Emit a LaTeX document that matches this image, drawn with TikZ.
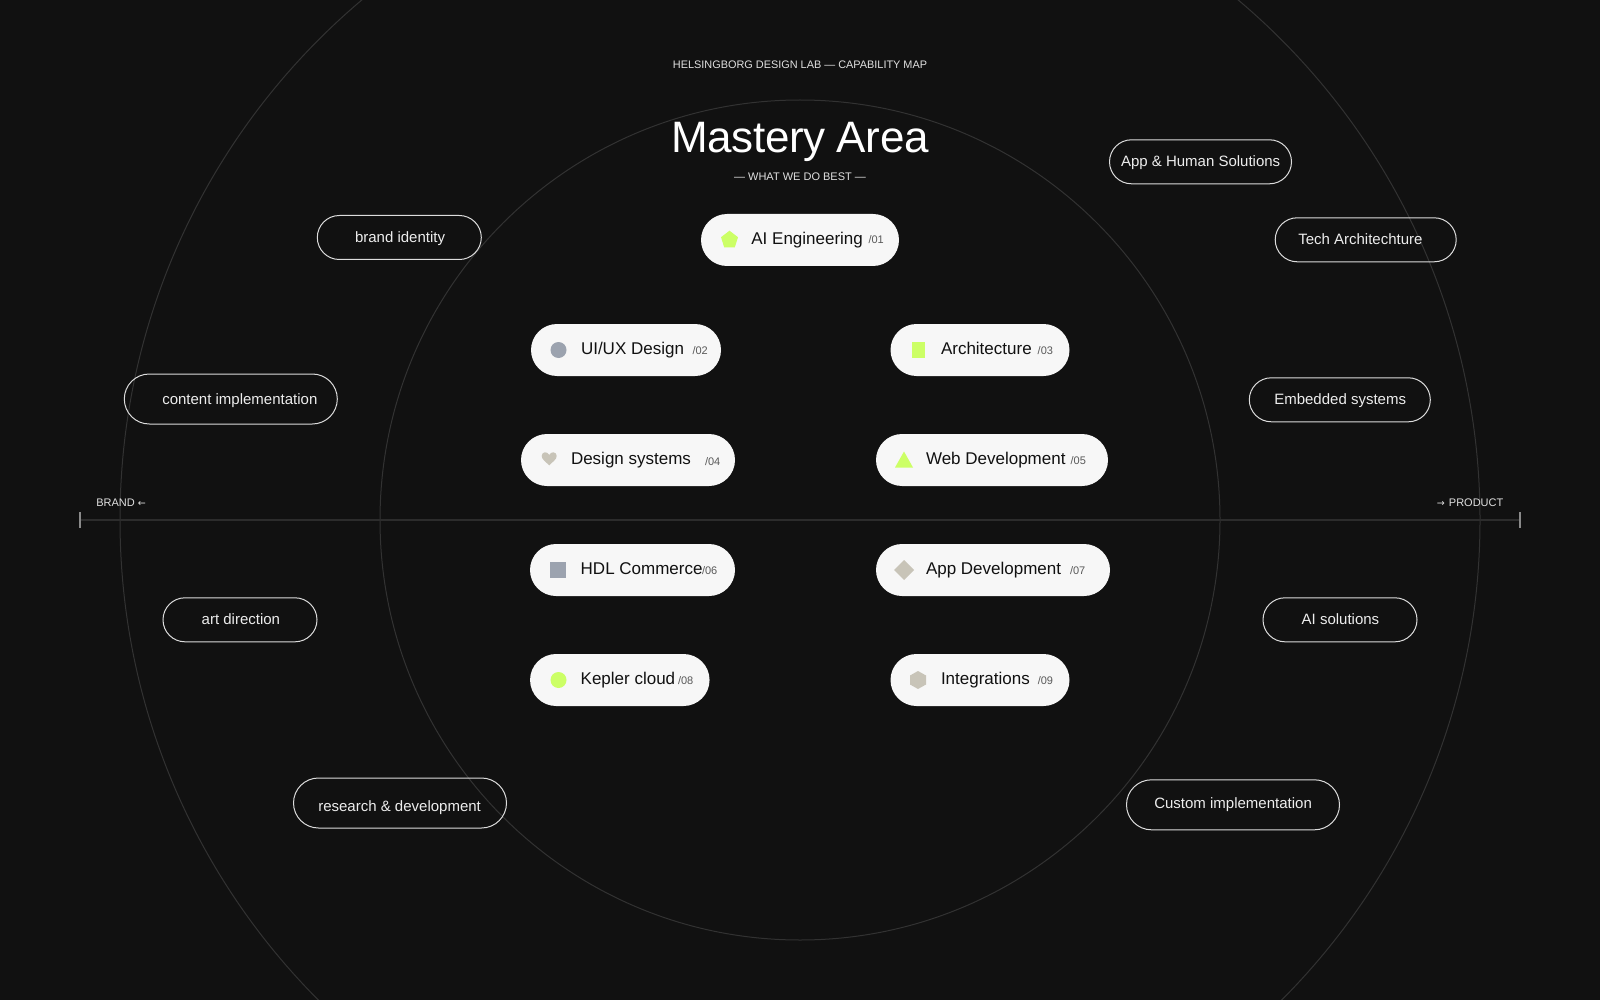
\documentclass[tikz,border=0pt]{standalone}
\usepackage{fontspec}
\setmainfont{Liberation Sans}
\newfontfamily\titlefont[LetterSpace=-1]{Liberation Sans}
\newfontfamily\arrowfont{DejaVu Sans}
\newcommand{\arrowglyph}[1]{{\arrowfont\fontsize{9.5}{13}\selectfont #1}}
\definecolor{bgc}{HTML}{111111}
\definecolor{ringc}{HTML}{323232}
\definecolor{axisc}{HTML}{2C2C2C}
\definecolor{tickc}{HTML}{8A8A8A}
\definecolor{pillc}{HTML}{F7F7F7}
\definecolor{edgec}{HTML}{DCDCDC}
\definecolor{limec}{HTML}{CCFF66}
\definecolor{slatec}{HTML}{9CA3AF}
\definecolor{stonec}{HTML}{C8C4B8}
\tikzset{
  ring/.style={draw=ringc,line width=1pt},
  axisline/.style={draw=axisc,line width=2pt},
  tickmark/.style={draw=tickc,line width=2pt},
  solidpill/.style={rectangle,rounded corners=26pt,fill=pillc,minimum height=52pt,inner sep=0pt,outer sep=0pt},
  linepill/.style={rectangle,draw=edgec,line width=1pt,rounded corners=22pt,fill=none,minimum height=44pt,inner sep=0pt,outer sep=0pt},
  tallpill/.style={linepill,rounded corners=25pt,minimum height=50pt},
  pilltext/.style={anchor=base west,inner sep=0pt,outer sep=0pt,text=bgc,font=\fontsize{17}{20}\selectfont},
  numtext/.style={anchor=base west,inner sep=0pt,outer sep=0pt,text=black!65,font=\fontsize{11}{13}\selectfont},
  linetext/.style={anchor=base west,inner sep=0pt,outer sep=0pt,text=white!93!black,font=\fontsize{15}{18}\selectfont},
  smalltext/.style={inner sep=0pt,outer sep=0pt,text=white!88!black,font=\fontsize{11}{13}\selectfont},
}
\begin{document}
\begin{tikzpicture}[x=1pt,y=-1pt]
\useasboundingbox (0,0) rectangle (1600,1000);
\clip (0,0) rectangle (1600,1000);
\fill[bgc] (0,0) rectangle (1600,1000);
% rings and axis
\coordinate (ctr) at (800,520);
\draw[ring] (ctr) circle[radius=680pt];
\draw[ring] (ctr) circle[radius=420pt];
\coordinate (axL) at (80,520);
\coordinate (axR) at (1520,520);
\draw[axisline] (axL) -- (axR);
\draw[tickmark] (80,512) -- (80,528);
\draw[tickmark] (1520,512) -- (1520,528);
\node[smalltext,anchor=base west] (brand) at (96.3,506) {BRAND \arrowglyph{←}};
\node[smalltext,anchor=base east] (prod) at (1503.3,506) {\arrowglyph{→}\kern1pt{} PRODUCT};
% headings
\node[smalltext,anchor=base] (head) at (800,69) {\fontsize{10.9}{13}\selectfont HELSINGBORG DESIGN LAB — CAPABILITY MAP};
\node[anchor=base,inner sep=0pt,text=white,font=\titlefont\fontsize{44}{50}\selectfont] (title) at (800,152.7) {Mastery Area};
\node[smalltext,anchor=base] (sub) at (800,181) {— WHAT WE DO BEST —};
% solid pills
\node[solidpill,minimum width=198pt] (p1) at (800,240) {};
\node[solidpill,minimum width=190pt] (p2) at (626,350) {};
\node[solidpill,minimum width=179pt] (p3) at (980,350) {};
\node[solidpill,minimum width=214pt] (p4) at (628,460) {};
\node[solidpill,minimum width=232pt] (p5) at (992,460) {};
\node[solidpill,minimum width=205pt] (p6) at (632.5,570) {};
\node[solidpill,minimum width=234pt] (p7) at (993,570) {};
\node[solidpill,minimum width=179.5pt] (p8) at (619.8,680) {};
\node[solidpill,minimum width=179pt] (p9) at (980,680) {};
% icons
\fill[limec] (729.5,230.7) -- (738,237.2) -- (734.8,247.3) -- (724.2,247.3) -- (721,237.2) -- cycle;
\fill[slatec] (558.5,350) circle[radius=8pt];
\fill[limec] (912,342) rectangle (925,358);
\fill[stonec] (549.2,465.3) .. controls (546,462) and (541.7,459.5) .. (541.7,456) .. controls (541.7,451.5) and (547.5,451) .. (549.2,455) .. controls (550.9,451) and (556.7,451.5) .. (556.7,456) .. controls (556.7,459.5) and (552.4,462) .. (549.2,465.3) -- cycle;
\fill[limec] (904,451.5) -- (913,467.5) -- (895,467.5) -- cycle;
\fill[slatec] (550,562) rectangle (566.4,578);
\fill[stonec] (904,560) -- (914,570) -- (904,580) -- (894,570) -- cycle;
\fill[limec] (558.5,680) circle[radius=8pt];
\fill[stonec] (918,671) -- (926,675.5) -- (926,684.5) -- (918,689) -- (910,684.5) -- (910,675.5) -- cycle;
% solid pill texts
\node[pilltext] (t1) at (751.4,245) {AI Engineering};
\node[numtext] (n1) at (868.5,244) {/01};
\node[pilltext] (t2) at (581,354) {UI/UX Design};
\node[numtext] (n2) at (692.5,354) {/02};
\node[pilltext] (t3) at (941,354) {Architecture};
\node[numtext] (n3) at (1037.7,354) {/03};
\node[pilltext] (t4) at (571,464) {Design systems};
\node[numtext] (n4) at (705,465) {/04};
\node[pilltext] (t5) at (926,464) {Web Development};
\node[numtext] (n5) at (1070.6,464) {/05};
\node[pilltext] (t6) at (580.7,574) {HDL Commerce};
\node[numtext] (n6) at (702,574) {/06};
\node[pilltext] (t7) at (926,574) {App Development};
\node[numtext] (n7) at (1070,574) {/07};
\node[pilltext] (t8) at (580.7,684) {Kepler cloud};
\node[numtext] (n8) at (678,684) {/08};
\node[pilltext] (t9) at (941,684) {Integrations};
\node[numtext] (n9) at (1037.8,684) {/09};
% outlined pills
\node[linepill,minimum width=164pt] (l1) at (399.3,237.5) {};
\node[linepill,minimum width=182pt] (l2) at (1200.5,161.8) {};
\node[linepill,minimum width=181pt] (l3) at (1365.7,239.8) {};
\node[tallpill,minimum width=213pt] (l4) at (230.8,399) {};
\node[linepill,minimum width=181pt] (l5) at (1339.8,399.8) {};
\node[linepill,minimum width=154pt] (l6) at (240,619.8) {};
\node[linepill,minimum width=154pt] (l7) at (1340,619.8) {};
\node[tallpill,minimum width=213pt] (l8) at (400,803) {};
\node[tallpill,minimum width=213pt] (l9) at (1233,804.8) {};
\node[linetext] (o1) at (355,243) {brand identity};
\node[linetext] (o2) at (1121,167) {App \& Human Solutions};
\node[linetext] (o3) at (1298.3,245) {Tech Architechture};
\node[linetext] (o4) at (162.3,404) {content implementation};
\node[linetext] (o5) at (1274.3,404) {Embedded systems};
\node[linetext] (o6) at (201.7,624.3) {art direction};
\node[linetext] (o7) at (1301.7,624.3) {AI solutions};
\node[linetext] (o8) at (318.3,811) {research \& development};
\node[linetext] (o9) at (1154.3,808.3) {Custom implementation};
\end{tikzpicture}
\end{document}
